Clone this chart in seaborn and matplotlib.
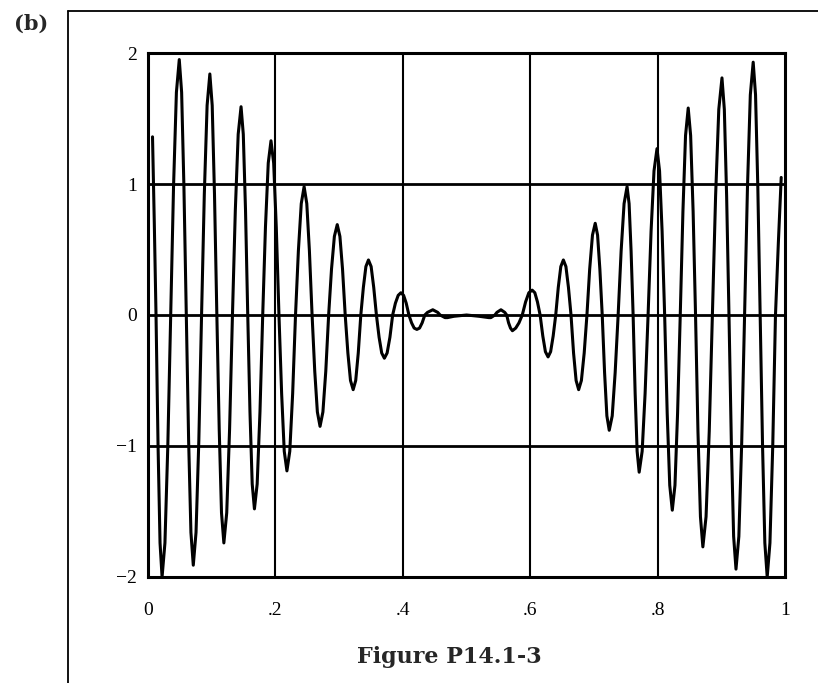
import matplotlib
matplotlib.use("Agg")
import matplotlib.pyplot as plt
import seaborn as sns
from matplotlib.lines import Line2D

# curve, one row per half swing
# (points near each crest, on the flanks, at the zero crossing)
t = [0.007, 0.0098, 0.0125, 0.0157, 0.0188, 0.022,
     0.0265, 0.031, 0.0355, 0.040, 0.0445, 0.049,
     0.0527, 0.0563, 0.060, 0.0637, 0.0673, 0.071,
     0.0753, 0.0797, 0.084, 0.0883, 0.0927, 0.097,
     0.1007, 0.1043, 0.108, 0.1117, 0.1153, 0.119,
     0.1235, 0.128, 0.1325, 0.137, 0.1415, 0.146,
     0.1495, 0.153, 0.1565, 0.160, 0.1635, 0.167,
     0.1713, 0.1757, 0.180, 0.1843, 0.1887, 0.193,
     0.1972, 0.2013, 0.2055, 0.2097, 0.2138, 0.218,
     0.2225, 0.227, 0.2315, 0.236, 0.2405, 0.245,
     0.2492, 0.2533, 0.2575, 0.2617, 0.2658, 0.270,
     0.2745, 0.279, 0.2835, 0.288, 0.2925, 0.297,
     0.3012, 0.3053, 0.3095, 0.3137, 0.3178, 0.322,
     0.326, 0.330, 0.334, 0.338, 0.342, 0.346,
     0.3502, 0.3543, 0.3585, 0.3627, 0.3668, 0.371,
     0.3753, 0.3797, 0.384, 0.3883, 0.3927, 0.397,
     0.4012, 0.4053, 0.4095, 0.4137, 0.4178, 0.422,
     0.4262, 0.4303, 0.4345, 0.4387, 0.4428, 0.447,
     0.4508, 0.4547, 0.4585, 0.4623, 0.4662, 0.470,
     0.480, 0.500, 0.520, 0.535,
     0.5382, 0.5413, 0.5445, 0.5477, 0.5508, 0.554,
     0.557, 0.560, 0.563, 0.566, 0.569, 0.572,
     0.5772, 0.5823, 0.5875, 0.5927, 0.5978, 0.603,
     0.6072, 0.6113, 0.6155, 0.6197, 0.6238, 0.628,
     0.632, 0.636, 0.640, 0.644, 0.648, 0.652,
     0.656, 0.660, 0.664, 0.668, 0.672, 0.676,
     0.6803, 0.6847, 0.689, 0.6933, 0.6977, 0.702,
     0.7057, 0.7093, 0.713, 0.7167, 0.7203, 0.724,
     0.7287, 0.7333, 0.738, 0.7427, 0.7473, 0.752,
     0.7552, 0.7583, 0.7615, 0.7647, 0.7678, 0.771,
     0.7757, 0.7803, 0.785, 0.7897, 0.7943, 0.799,
     0.803, 0.807, 0.811, 0.815, 0.819, 0.823,
     0.8272, 0.8313, 0.8355, 0.8397, 0.8438, 0.848,
     0.8518, 0.8557, 0.8595, 0.8633, 0.8672, 0.871,
     0.876, 0.881, 0.886, 0.891, 0.896, 0.901,
     0.9047, 0.9083, 0.912, 0.9157, 0.9193, 0.923,
     0.9275, 0.932, 0.9365, 0.941, 0.9455, 0.950,
     0.9537, 0.9573, 0.961, 0.9647, 0.9683, 0.972,
     0.9763, 0.9807, 0.985, 0.9895, 0.994]

v = [1.36, 0.70, 0.0, -1.00, -1.74, -2.00,
     -1.74, -1.00, 0.0, 0.98, 1.70, 1.95,
     1.70, 0.98, 0.0, -0.96, -1.66, -1.91,
     -1.66, -0.96, 0.0, 0.92, 1.60, 1.84,
     1.60, 0.92, 0.0, -0.87, -1.51, -1.74,
     -1.51, -0.87, 0.0, 0.80, 1.38, 1.59,
     1.38, 0.80, 0.0, -0.74, -1.29, -1.48,
     -1.29, -0.74, 0.0, 0.67, 1.16, 1.33,
     1.16, 0.67, 0.0, -0.60, -1.04, -1.19,
     -1.04, -0.60, 0.0, 0.49, 0.85, 0.98,
     0.85, 0.49, 0.0, -0.43, -0.74, -0.85,
     -0.74, -0.43, 0.0, 0.35, 0.60, 0.69,
     0.60, 0.35, 0.0, -0.29, -0.50, -0.57,
     -0.50, -0.29, 0.0, 0.21, 0.37, 0.42,
     0.37, 0.21, 0.0, -0.17, -0.29, -0.33,
     -0.29, -0.17, 0.0, 0.09, 0.15, 0.17,
     0.15, 0.09, 0.0, -0.06, -0.10, -0.11,
     -0.10, -0.06, 0.0, 0.02, 0.03, 0.04,
     0.03, 0.02, 0.0, -0.01, -0.02, -0.02,
     -0.01, 0.0, -0.01, -0.02,
     -0.02, -0.01, 0.0, 0.02, 0.03, 0.04,
     0.03, 0.02, 0.0, -0.06, -0.10, -0.12,
     -0.10, -0.06, 0.0, 0.10, 0.17, 0.19,
     0.17, 0.10, 0.0, -0.16, -0.28, -0.32,
     -0.28, -0.16, 0.0, 0.21, 0.37, 0.42,
     0.37, 0.21, 0.0, -0.29, -0.50, -0.57,
     -0.50, -0.29, 0.0, 0.35, 0.61, 0.70,
     0.61, 0.35, 0.0, -0.44, -0.77, -0.88,
     -0.77, -0.44, 0.0, 0.49, 0.85, 0.98,
     0.85, 0.49, 0.0, -0.60, -1.04, -1.20,
     -1.04, -0.60, 0.0, 0.64, 1.10, 1.27,
     1.10, 0.64, 0.0, -0.75, -1.30, -1.49,
     -1.30, -0.75, 0.0, 0.79, 1.37, 1.58,
     1.37, 0.79, 0.0, -0.89, -1.54, -1.77,
     -1.54, -0.89, 0.0, 0.91, 1.57, 1.81,
     1.57, 0.91, 0.0, -0.97, -1.69, -1.94,
     -1.69, -0.97, 0.0, 0.97, 1.68, 1.93,
     1.68, 0.97, 0.0, -1.00, -1.74, -2.00,
     -1.74, -1.00, 0.0, 0.55, 1.05]

x_ticks = [0, 0.2, 0.4, 0.6, 0.8, 1]
x_labels = ["0", ".2", ".4", ".6", ".8", "1"]
y_ticks = [-2, -1, 0, 1, 2]
y_labels = ["\u22122", "\u22121", "0", "1", "2"]

sns.set_style("white")
plt.rcParams["font.family"] = ["Liberation Serif", "DejaVu Serif"]

fig = plt.figure(figsize=(8.18, 6.83), dpi=100)
ax = fig.add_axes([0.181, 0.1552, 0.7787, 0.7672])

sns.lineplot(x=t, y=v, sort=False, estimator=None, color="black",
             linewidth=2.2, ax=ax, zorder=3)
ax.lines[-1].set_solid_joinstyle("round")

ax.set_xlim(0, 1)
ax.set_ylim(-2, 2)
ax.set_xticks(x_ticks)
ax.set_xticklabels(x_labels)
ax.set_yticks(y_ticks)
ax.set_yticklabels(y_labels)
ax.tick_params(axis="x", length=0, pad=18, labelsize=14, colors="black")
ax.tick_params(axis="y", length=0, pad=8, labelsize=14, colors="black")

# grid: thick horizontal rules, thinner verticals
for yy in [-1, 0, 1]:
    ax.axhline(yy, color="black", linewidth=2.0, zorder=2)
for xx in [0.2, 0.4, 0.6, 0.8]:
    ax.axvline(xx, color="black", linewidth=1.5, zorder=2)

for s in ax.spines.values():
    s.set_visible(True)
    s.set_color("black")
    s.set_linewidth(2.2)

ax.set_xlabel("")
ax.set_ylabel("")

# page frame and captions
fig.add_artist(Line2D([0.0831, 0.0831], [0.984, 0.0], color="black", linewidth=1.3))
fig.add_artist(Line2D([0.0831, 1.0], [0.984, 0.984], color="black", linewidth=1.3))
fig.text(0.038, 0.965, "(b)", fontsize=15, fontweight="bold",
         family=["DejaVu Serif"], ha="center", va="center")
fig.text(0.549, 0.038, "Figure P14.1-3", fontsize=16, fontweight="bold",
         family=["DejaVu Serif"], ha="center", va="center")

fig.savefig("out.png", dpi=100)
